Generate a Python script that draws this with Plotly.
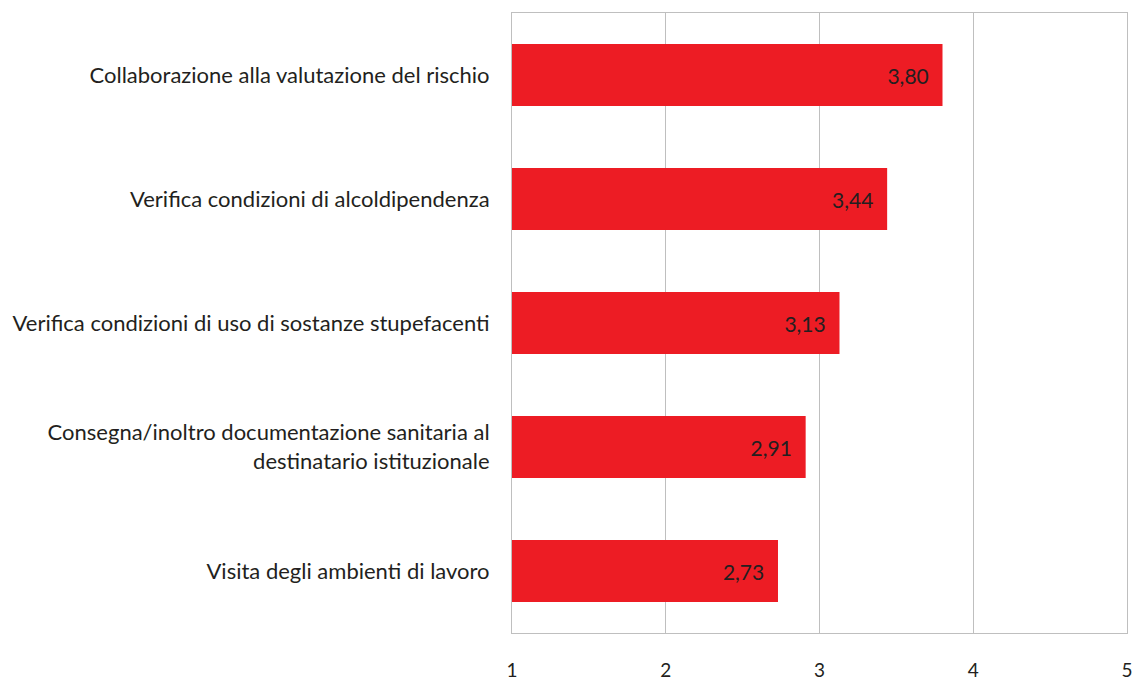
import plotly.graph_objects as go

categories = [
    "Collaborazione alla valutazione del rischio",
    "Verifica condizioni di alcoldipendenza",
    "Verifica condizioni di uso di sostanze stupefacenti",
    "Consegna/inoltro documentazione sanitaria al<br>destinatario istituzionale",
    "Visita degli ambienti di lavoro",
]
values = [3.80, 3.44, 3.13, 2.91, 2.73]
tick_vals = [1, 2, 3, 4, 5]

labels = [f"{v:.2f}".replace(".", ",") + "\u00a0\u00a0" for v in values]

FONT = "Lato, 'Open Sans', sans-serif"
TEXT = "#231F20"
GRID = "#BFBFBF"

fig = go.Figure(
    go.Bar(
        y=categories,
        x=[v - 1 for v in values],
        base=1,
        orientation="h",
        marker=dict(color="#ED1C24", line=dict(width=0)),
        width=0.5,
        text=labels,
        textposition="inside",
        insidetextanchor="end",
        textfont=dict(family=FONT, size=21, color=TEXT),
        constraintext="none",
        hoverinfo="skip",
    )
)

fig.update_layout(
    width=1134,
    height=682,
    margin=dict(l=512, r=7, t=13, b=49, autoexpand=False),
    paper_bgcolor="white",
    plot_bgcolor="white",
    showlegend=False,
    font=dict(family=FONT, size=21, color=TEXT),
)

fig.update_xaxes(
    range=[1, 5],
    tickvals=tick_vals,
    ticktext=[str(t) for t in tick_vals],
    showgrid=True,
    gridcolor=GRID,
    gridwidth=1,
    showline=True,
    linecolor=GRID,
    linewidth=1,
    mirror=True,
    zeroline=False,
    ticks="",
    automargin=False,
    ticklabelstandoff=20,
    tickfont=dict(family=FONT, size=19, color=TEXT),
)

fig.update_yaxes(
    autorange="reversed",
    showgrid=False,
    showline=True,
    linecolor=GRID,
    linewidth=1,
    mirror=True,
    ticks="",
    automargin=False,
    ticklabelstandoff=17,
    tickfont=dict(family=FONT, size=22, color=TEXT),
)

fig.write_html(
    "out.html",
    config={"displayModeBar": False},
    post_script="document.body.style.margin='0';document.body.style.overflow='hidden';",
)
